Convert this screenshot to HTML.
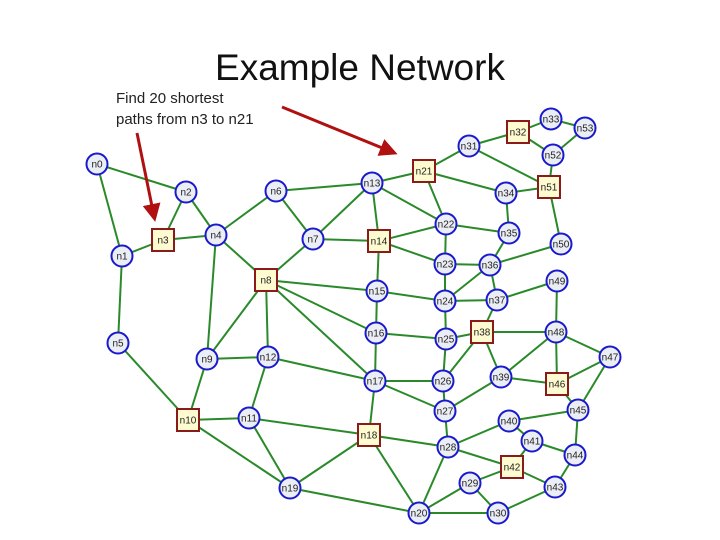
<!DOCTYPE html><html><head><style>body{margin:0;background:#fff}svg{display:block}</style></head><body>
<svg width="720" height="540" xmlns="http://www.w3.org/2000/svg" font-family="Liberation Sans, sans-serif">
<defs><marker id="ah" markerWidth="6" markerHeight="6" refX="4" refY="3" orient="auto"><path d="M0,0 L6,3 L0,6z" fill="#b01010"/></marker></defs>
<text x="360" y="80" font-size="37" text-anchor="middle" fill="#111">Example Network</text>
<text x="116" y="103" font-size="15" fill="#222">Find 20 shortest</text>
<text x="116" y="124" font-size="15" fill="#222">paths from n3 to n21</text>
<g stroke="#2a8a2a" stroke-width="2" id="edges"></g>
<line x1="137" y1="133" x2="154" y2="216" stroke="#b01010" stroke-width="3" marker-end="url(#ah)"/>
<line x1="282" y1="107" x2="392" y2="152" stroke="#b01010" stroke-width="3" marker-end="url(#ah)"/>
<g id="nodes" font-size="10" text-anchor="middle"></g>
<script>
var N={n0:[97,164],n1:[122,256],n2:[186,192],n3:[163,240,1],n4:[216,235],n5:[118,343],n6:[276,191],n7:[313,239],n8:[266,280,1],n9:[207,359],n10:[188,420,1],n11:[249,418],n12:[268,357],n13:[372,183],n14:[379,241,1],n15:[377,291],n16:[376,333],n17:[375,381],n18:[369,435,1],n19:[290,488],n20:[419,513],n21:[424,171,1],n22:[446,224],n23:[445,264],n24:[445,301],n25:[446,339],n26:[443,381],n27:[445,411],n28:[448,447],n29:[470,483],n30:[498,513],n31:[469,146],n32:[518,132,1],n33:[551,119],n34:[506,193],n35:[509,233],n36:[490,265],n37:[497,300],n38:[482,332,1],n39:[501,377],n40:[509,421],n41:[532,441],n42:[512,467,1],n43:[555,487],n44:[575,455],n45:[578,410],n46:[557,384,1],n47:[610,357],n48:[556,332],n49:[557,281],n50:[561,244],n51:[549,187,1],n52:[553,155],n53:[585,128]};
var E="0-1 0-2 2-3 2-4 3-1 3-4 1-5 4-6 4-8 4-9 6-13 6-7 7-13 7-14 7-8 13-14 13-21 13-22 14-22 14-23 14-15 8-15 8-16 8-17 8-9 8-12 5-10 9-10 9-12 10-11 10-19 11-12 11-18 11-19 12-17 15-16 15-24 16-17 16-25 17-18 17-26 17-27 18-19 18-20 18-28 19-20 21-31 21-22 21-34 22-23 22-35 23-36 23-24 24-25 24-36 24-37 36-35 36-37 36-50 37-49 37-38 25-38 25-26 26-38 26-27 27-39 27-28 38-39 38-48 48-39 48-47 48-46 39-46 46-47 46-45 47-45 45-40 45-44 40-28 40-41 41-42 41-44 44-43 42-28 42-29 42-43 43-30 29-20 29-30 28-20 20-30 31-32 31-51 32-33 32-52 33-53 53-52 52-51 51-34 51-50 34-35 49-48".split(" ");
var ns="http://www.w3.org/2000/svg",eg=document.getElementById("edges"),ng=document.getElementById("nodes");
E.forEach(function(e){var p=e.split("-"),a=N["n"+p[0]],b=N["n"+p[1]];var l=document.createElementNS(ns,"line");l.setAttribute("x1",a[0]);l.setAttribute("y1",a[1]);l.setAttribute("x2",b[0]);l.setAttribute("y2",b[1]);eg.appendChild(l);});
for(var k in N){var v=N[k],s;if(v[2]){s=document.createElementNS(ns,"rect");s.setAttribute("x",v[0]-11);s.setAttribute("y",v[1]-11);s.setAttribute("width",22);s.setAttribute("height",22);s.setAttribute("fill","#fffbd0");s.setAttribute("stroke","#8b1a1a");}else{s=document.createElementNS(ns,"circle");s.setAttribute("cx",v[0]);s.setAttribute("cy",v[1]);s.setAttribute("r",10.5);s.setAttribute("fill","#eceef6");s.setAttribute("stroke","#1a1acc");}s.setAttribute("stroke-width","2");ng.appendChild(s);var t=document.createElementNS(ns,"text");t.setAttribute("x",v[0]);t.setAttribute("y",v[1]+3.5);t.setAttribute("fill","#222");t.textContent=k;ng.appendChild(t);}
</script>
</svg></body></html>
